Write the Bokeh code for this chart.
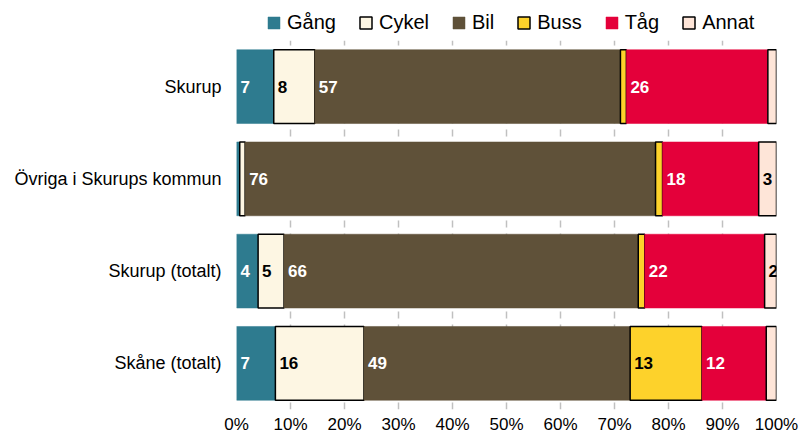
from bokeh.plotting import figure
from bokeh.layouts import column
from bokeh.models import (ColumnDataSource, FactorRange, Range1d, Legend, LegendItem,
                          FixedTicker)
from bokeh.embed import file_html
from bokeh.resources import INLINE
from bokeh.core.properties import value

# ---- data ----
categories = ["Skurup", "Övriga i Skurups kommun", "Skurup (totalt)", "Skåne (totalt)"]
gang  = [6.9, 0.6, 4.0, 7.2]
cykel = [7.6, 1.0, 4.8, 16.4]
bil   = [56.6, 76.0, 65.6, 49.3]
buss  = [1.1, 1.3, 1.2, 13.3]
tag   = [26.2, 17.8, 22.2, 11.9]
annat = [1.6, 3.3, 2.2, 1.9]
series_names = ["Gång", "Cykel", "Bil", "Buss", "Tåg", "Annat"]
x_ticks = [0, 10, 20, 30, 40, 50, 60, 70, 80, 90, 100]
x_tick_labels = ["0%", "10%", "20%", "30%", "40%", "50%", "60%", "70%", "80%", "90%", "100%"]

series = [gang, cykel, bil, buss, tag, annat]
colors = ["#2E7B8F", "#FDF6E3", "#5F5139", "#FDD22B", "#E4003A", "#FEE5D8"]
outlines = [None, "black", None, "black", None, "black"]
label_colors = ["white", "black", "white", "black", "white", "black"]

FONT = "Liberation Sans"
W = 800
LEG_H, MAIN_H = 40, 396
LEFT, RIGHT, BOTTOM = 236, 24, 26

x_range = Range1d(0, 100)

# ---- main chart ----
p = figure(width=W, height=MAIN_H, output_backend="svg", toolbar_location=None, title=None,
           y_range=FactorRange(factors=categories[::-1]),
           x_range=x_range,
           min_border_left=LEFT, min_border_right=RIGHT, min_border_top=0,
           min_border_bottom=BOTTOM)
p.outline_line_color = None

# ---- legend strip above the chart ----
lg = figure(width=W, height=LEG_H, output_backend="svg", toolbar_location=None, title=None,
            x_range=x_range, y_range=FactorRange(factors=categories[::-1]),
            min_border_left=LEFT, min_border_right=RIGHT, min_border_top=0,
            min_border_bottom=0)
lg.axis.visible = False
lg.grid.visible = False
lg.outline_line_color = None

lefts = [0.0] * len(categories)
lab_x, lab_y, lab_t, lab_c = [], [], [], []
items = []
for name, vals, col, oc, lc in zip(series_names, series, colors, outlines, label_colors):
    rights = [l + v for l, v in zip(lefts, vals)]
    src = ColumnDataSource(dict(y=categories, left=list(lefts), right=rights))
    style = dict(fill_color=col, line_color=oc if oc else col,
                 line_width=1.5 if oc else 0.5)
    p.hbar(y="y", left="left", right="right", height=0.8, source=src, **style)
    # hidden twin in the legend strip, used only for its legend swatch
    r = lg.hbar(y="y", left="left", right="right", height=0.8, source=src,
                visible=False, **style)
    items.append(LegendItem(label=name, renderers=[r]))
    for c, l, v in zip(categories, lefts, vals):
        if v >= 2:
            lab_x.append(l)
            lab_y.append(c)
            lab_t.append(str(int(round(v))))
            lab_c.append(lc)
    lefts = rights

lsrc = ColumnDataSource(dict(x=lab_x, y=lab_y, t=lab_t, c=lab_c))
p.text(x="x", y="y", text="t", text_color="c", source=lsrc, x_offset=4,
       text_baseline="middle", text_align="left", text_font=value(FONT),
       text_font_style="bold", text_font_size=value("17px"))

p.ygrid.grid_line_color = None
p.xgrid.ticker = FixedTicker(ticks=x_ticks)
p.xgrid.grid_line_color = "#C0C0C0"
p.xgrid.grid_line_dash = "7 6"
p.xgrid.grid_line_width = 1.5

p.xaxis.ticker = FixedTicker(ticks=x_ticks)
p.xaxis.major_label_overrides = {t: s for t, s in zip(x_ticks, x_tick_labels)}
for ax in (p.xaxis, p.yaxis):
    ax.axis_line_color = None
    ax.major_tick_line_color = None
    ax.minor_tick_line_color = None
    ax.major_tick_out = 0
    ax.major_tick_in = 0
    ax.major_label_text_font = FONT
    ax.major_label_text_color = "black"
p.xaxis.major_label_text_font_size = "17px"
p.xaxis.major_label_standoff = 5
p.yaxis.major_label_text_font_size = "18px"
p.yaxis.major_label_standoff = 15

legend = Legend(items=items, orientation="horizontal", location=(30, 6),
                label_text_font=FONT, label_text_font_size="20px",
                label_text_color="black",
                glyph_width=15, glyph_height=15, label_standoff=6, spacing=22,
                padding=0, margin=0, border_line_alpha=0, background_fill_alpha=0)
lg.add_layout(legend, "center")

layout = column(lg, p, spacing=0)
open("out.html", "w").write(file_html(layout, INLINE))
